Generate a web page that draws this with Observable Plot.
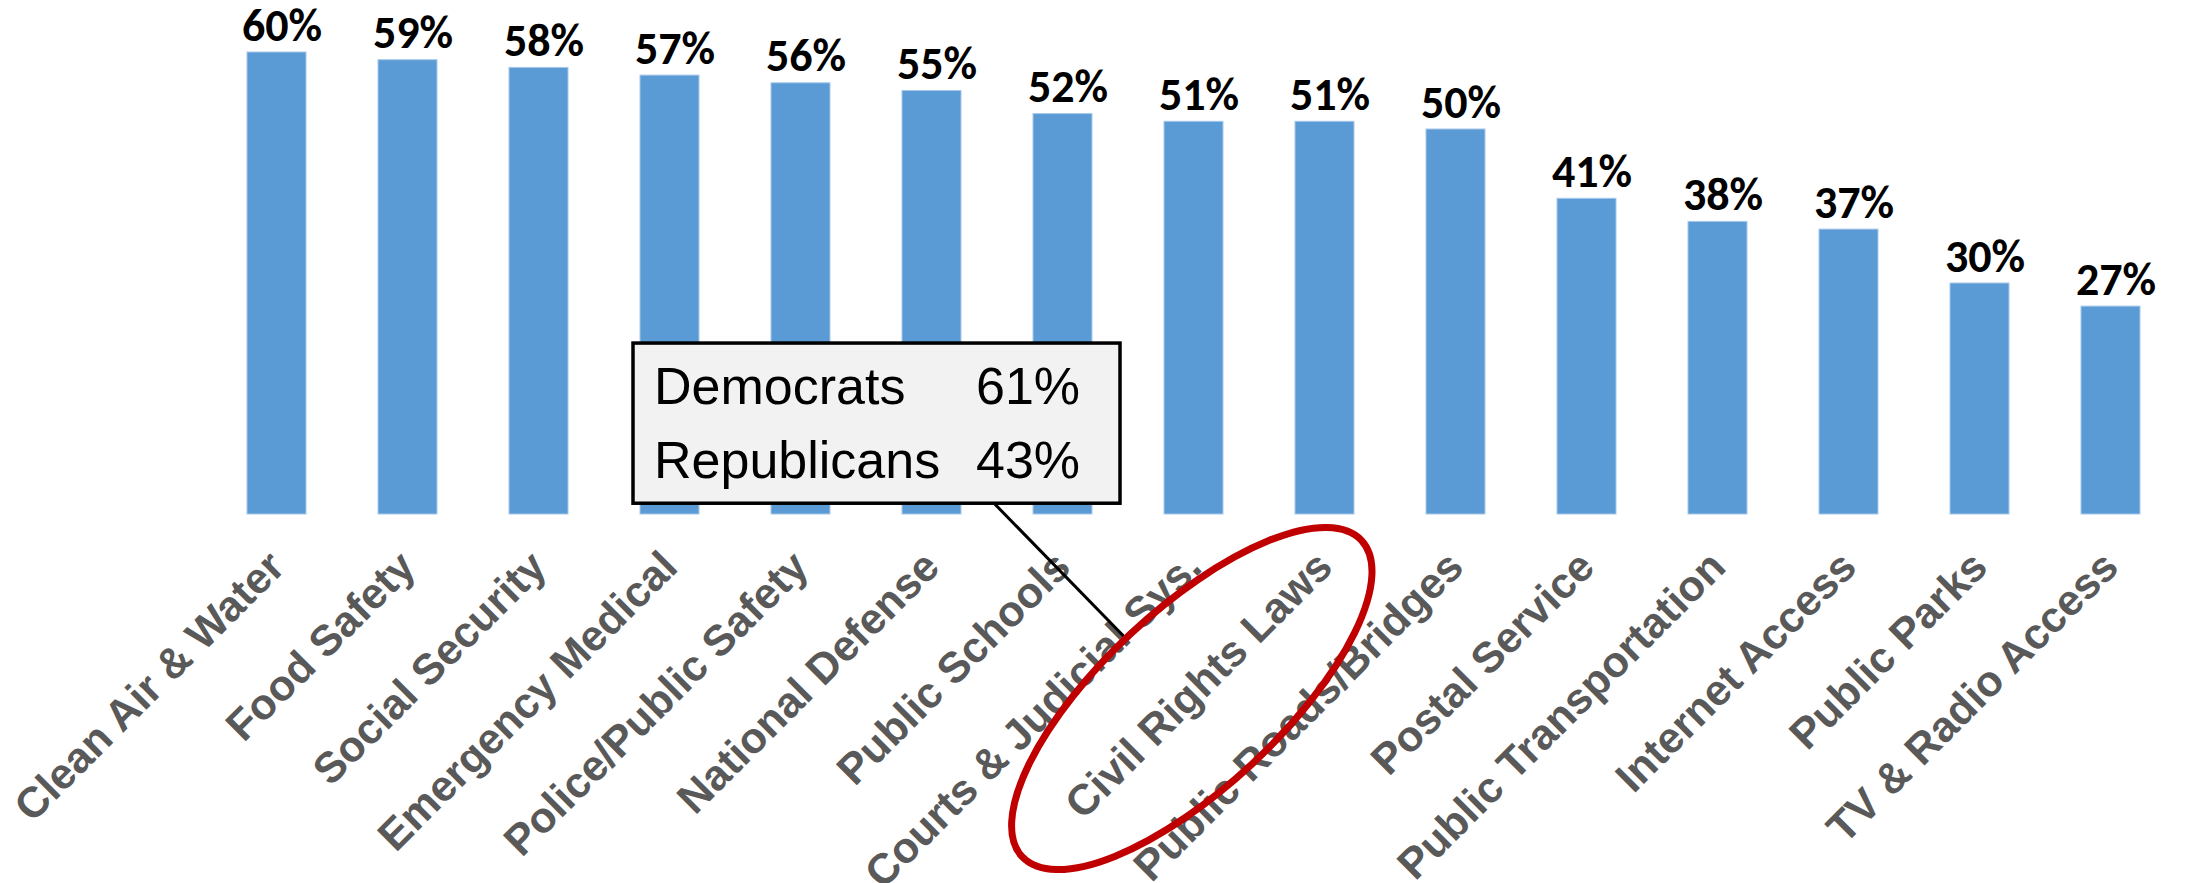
<!DOCTYPE html>
<html>
<head>
<meta charset="utf-8">
<script src="https://cdn.jsdelivr.net/npm/d3@7"></script>
<script src="https://cdn.jsdelivr.net/npm/@observablehq/plot@0.6"></script>
<style>
  html, body { margin: 0; padding: 0; background: #ffffff; }
  #chart svg { display: block; }
</style>
</head>
<body>
<div id="chart"></div>
<script>
// ---- data ----
const categories = [
  "Clean Air & Water", "Food Safety", "Social Security", "Emergency Medical",
  "Police/Public Safety", "National Defense", "Public Schools",
  "Courts & Judicial Sys.", "Civil Rights Laws", "Public Roads/Bridges",
  "Postal Service", "Public Transportation", "Internet Access",
  "Public Parks", "TV & Radio Access"
];
const values = [60, 59, 58, 57, 56, 55, 52, 51, 51, 50, 41, 38, 37, 30, 27];
const highlighted = "Civil Rights Laws";
const partyNames = ["Democrats", "Republicans"];
const partyValues = [61, 43];

const rows = categories.map((c, i) => ({category: c, value: values[i]}));

const W = 2190, H = 883;
const labelFont = "'Liberation Sans', Arial, sans-serif";
const valueFont = "Carlito, 'Liberation Sans Narrow', 'Open Sans', sans-serif";

const chart = Plot.plot({
  width: W,
  height: H,
  marginLeft: 219.5,
  marginRight: 22.5,
  marginTop: 52,
  marginBottom: 369,
  style: {background: "#ffffff", overflow: "visible"},
  x: {domain: categories, paddingInner: 0.553, paddingOuter: 0.2, axis: null},
  y: {domain: [0, 60], axis: null},
  marks: [
    Plot.barY(rows, {x: "category", y: "value", fill: "#5b9bd5", stroke: "#a7c8ea", strokeWidth: 1}),
    Plot.text(rows, {
      x: "category", y: "value", text: d => d.value + "%",
      lineAnchor: "bottom", dx: 5, dy: -12, fontSize: 46, fontWeight: "bold",
      fill: "#000000", fontFamily: valueFont
    }),
    Plot.text(rows, {
      x: "category", text: "category", frameAnchor: "bottom",
      rotate: -45, textAnchor: "end", lineAnchor: "middle",
      dx: 0, dy: 45, fontSize: 43, fontWeight: "bold",
      fill: "#595959", fontFamily: labelFont
    })
  ]
});

document.getElementById("chart").appendChild(chart);

// ---- annotations placed via the chart's own scales ----
const xs = chart.scale("x"), ys = chart.scale("y");
const bw = xs.bandwidth;
const svg = d3.select(chart.tagName.toLowerCase() === "svg" ? chart : chart.querySelector("svg"));

const boxX0 = xs.apply("Emergency Medical") - 7;
const boxX1 = xs.apply("Public Schools") + bw + 28;
const boxY0 = ys.apply(22.2);
const boxY1 = ys.apply(1.4);

const hx = xs.apply(highlighted) + bw / 2;   // centre of highlighted bar
const y0 = ys.apply(0);

// connector line
svg.append("line")
  .attr("x1", boxX0 + 361).attr("y1", boxY1)
  .attr("x2", hx - 200).attr("y2", y0 + 123)
  .attr("stroke", "#000").attr("stroke-width", 3);

// callout box
svg.append("rect")
  .attr("x", boxX0).attr("y", boxY0)
  .attr("width", boxX1 - boxX0).attr("height", boxY1 - boxY0)
  .attr("fill", "#f2f2f2").attr("stroke", "#000").attr("stroke-width", 3.5);

const g = svg.append("g")
  .attr("font-family", labelFont).attr("font-size", 52).attr("fill", "#000")
  .attr("text-anchor", "start");
partyNames.forEach((name, i) => {
  const base = boxY0 + 61 + i * 74.3;
  g.append("text").attr("x", boxX0 + 21).attr("y", base).attr("text-anchor", "start").text(name);
  g.append("text").attr("x", boxX0 + 343).attr("y", base).attr("text-anchor", "start").text(partyValues[i] + "%");
});

// red ellipse around the highlighted label
svg.append("ellipse")
  .attr("cx", 0).attr("cy", 0).attr("rx", 232).attr("ry", 89)
  .attr("transform", `translate(${hx - 132.7},${y0 + 184.5}) rotate(-43)`)
  .attr("fill", "none").attr("stroke", "#c00000").attr("stroke-width", 7);
</script>
</body>
</html>
